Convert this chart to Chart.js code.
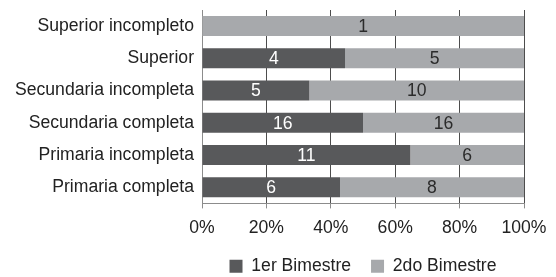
<!DOCTYPE html>
<html>
<head>
<meta charset="utf-8">
<script src="https://cdn.jsdelivr.net/npm/chart.js@4"></script>
<style>
  html, body { margin: 0; padding: 0; background: #fff; }
  #wrap { position: relative; width: 556px; height: 277px; }
</style>
</head>
<body>
<div id="wrap"><canvas id="chart"></canvas></div>
<script>
const categories = ['Superior incompleto', 'Superior', 'Secundaria incompleta', 'Secundaria completa', 'Primaria incompleta', 'Primaria completa'];
const primerBimestre = [0, 4, 5, 16, 11, 6];
const segundoBimestre = [1, 5, 10, 16, 6, 8];
const seriesNames = ['1er Bimestre', '2do Bimestre'];
const xTicks = [0, 20, 40, 60, 80, 100];

const FONT = '"Liberation Sans", Arial, sans-serif';
const totals = categories.map((_, i) => primerBimestre[i] + segundoBimestre[i]);
const toPct = (arr) => arr.map((v, i) => v / totals[i] * 100);

// draw the raw counts in the middle of each segment
const countLabels = {
    id: 'countLabels',
    afterDatasetsDraw(chart) {
        const ctx = chart.ctx;
        ctx.save();
        ctx.font = '17.6px ' + FONT;
        ctx.textAlign = 'center';
        ctx.textBaseline = 'middle';
        chart.data.datasets.forEach((ds, di) => {
            const meta = chart.getDatasetMeta(di);
            meta.data.forEach((bar, i) => {
                const count = ds.counts[i];
                if (!count) return;
                ctx.fillStyle = ds.labelColor;
                ctx.fillText(String(count), (bar.x + bar.base) / 2, bar.y + 1);
            });
        });
        ctx.restore();
    }
};

const chart = new Chart(document.getElementById('chart'), {
    type: 'bar',
    data: {
        labels: categories,
        datasets: [{
            label: seriesNames[0],
            data: toPct(primerBimestre),
            counts: primerBimestre,
            backgroundColor: '#58595b',
            labelColor: '#ffffff',
        }, {
            label: seriesNames[1],
            data: toPct(segundoBimestre),
            counts: segundoBimestre,
            backgroundColor: '#a7a9ac',
            labelColor: '#2b2b2b',
        }],
    },
    options: {
        indexAxis: 'y',
        responsive: true,
        maintainAspectRatio: false,
        animation: false,
        layout: { padding: { top: 10, right: 32, bottom: -8, left: 0 } },
        datasets: {
            bar: { categoryPercentage: 1, barPercentage: 0.62 }
        },
        scales: {
            x: {
                stacked: true,
                min: 0,
                max: 100,
                afterBuildTicks: (scale) => { scale.ticks = xTicks.map(v => ({ value: v })); },
                afterFit: (scale) => { scale.height = 34; },
                ticks: {
                    callback: (v) => v + '%',
                    color: '#222',
                    font: { family: FONT, size: 17.6 },
                    padding: 9,
                    maxRotation: 0,
                },
                grid: {
                    color: '#4d4d4d',
                    borderDash: [4, 4],
                    tickLength: 5,
                    tickColor: '#8c8c8c',
                },
                border: { color: '#8c8c8c' },
            },
            y: {
                stacked: true,
                afterFit: (scale) => {
                    scale.width = 202;
                    scale.paddingTop = 0;
                    scale.paddingBottom = 0;
                },
                ticks: {
                    color: '#222',
                    font: { family: FONT, size: 17.6 },
                    padding: 8,
                },
                grid: { display: false, drawTicks: false },
                border: { display: true, color: '#8c8c8c' },
            },
        },
        plugins: {
            legend: {
                position: 'bottom',
                fullSize: false,
                labels: {
                    boxWidth: 13,
                    boxHeight: 13,
                    padding: 20,
                    color: '#222',
                    font: { family: FONT, size: 17.6 },
                },
            },
            tooltip: { enabled: false },
        },
    },
    plugins: [countLabels],
});
</script>
</body>
</html>
